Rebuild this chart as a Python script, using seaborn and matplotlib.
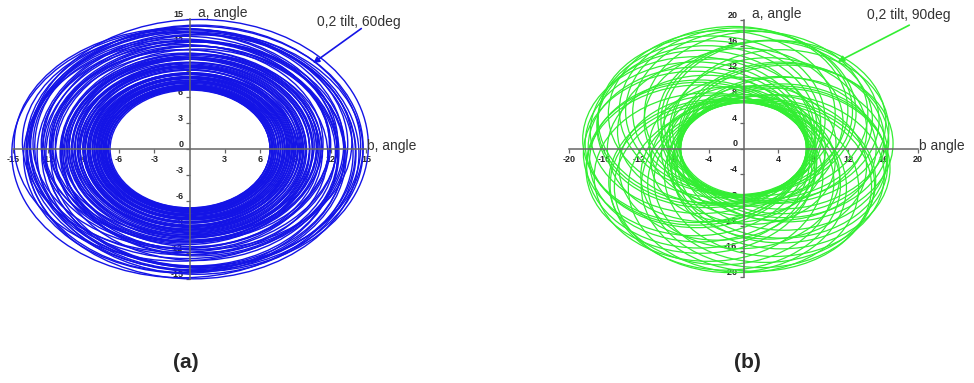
import matplotlib
matplotlib.use("Agg")
import matplotlib.pyplot as plt
from matplotlib.patches import Ellipse
import seaborn as sns

# ---- left panel (0,2 tilt, 60deg): loops ----
blue_r = [6.80, 6.85, 6.90, 6.95, 7.00, 7.05, 7.10, 7.15, 7.20, 7.25,
          7.30, 7.36, 7.42, 7.48, 7.54, 7.60, 7.66, 7.72, 7.78, 7.84,
          7.90, 7.96, 8.02, 8.08, 8.15, 8.21, 8.28, 8.34, 8.41, 8.47,
          8.54, 8.60, 8.67, 8.73, 8.80, 8.87, 8.95, 9.02, 9.10, 9.17,
          9.25, 9.32, 9.40, 9.47, 9.55, 9.62, 9.70, 9.79, 9.88, 9.97,
          10.06, 10.15, 10.24, 10.33, 10.42, 10.51, 10.60, 10.70, 10.80, 10.90,
          11.0, 11.1, 11.25, 11.4, 11.5, 11.7, 11.8, 11.95, 12.0, 12.2,
          12.3, 12.4, 12.6, 12.7, 12.85, 13.0, 13.1, 13.2, 13.3, 13.4,
          13.55, 13.65, 13.7, 13.85, 14.0, 14.1, 14.15, 14.25, 14.4, 14.5]
blue_cx = [0.05, 0.0, -0.05, 0.03, 0.08, -0.02, -0.04, 0.05, 0.02, -0.06,
           0.06, 0.0, -0.07, 0.04, 0.03, -0.05, 0.1, 0.02, -0.08, 0.07,
           0.04, -0.06, 0.12, 0.0, -0.1, 0.09, 0.06, -0.08, 0.14, 0.03,
           -0.12, 0.1, 0.08, -0.09, 0.15, 0.0, -0.1, 0.12, 0.1, -0.14,
           0.18, 0.05, -0.15, 0.16, 0.12, -0.1, 0.2, 0.04, -0.18, 0.22,
           0.15, -0.2, 0.25, 0.1, -0.2, 0.28, 0.18, -0.25, 0.3, 0.1,
           -0.4, 0.2, 0.5, -0.5, -0.3, 0.7, 0.1, -0.6, 0.6, 0.4,
           -0.3, 0.8, -0.7, 0.5, 0.3, -0.5, 0.7, 0.9, -0.6, -0.8,
           0.6, -0.2, -0.4, 0.7, -0.9, 0.3, 0.6, 0.5, 0.8, -0.6]
blue_cy = [0.0, 0.03, 0.04, -0.02, -0.05, 0.05, 0.06, -0.04, -0.03, 0.07,
           0.05, -0.05, -0.06, 0.06, 0.08, -0.03, -0.04, 0.09, 0.1, -0.07,
           -0.08, 0.05, 0.06, -0.1, 0.12, 0.04, -0.1, 0.11, 0.08, -0.09,
           -0.12, 0.1, 0.14, -0.08, -0.06, 0.13, 0.1, -0.12, -0.15, 0.08,
           0.12, -0.14, 0.18, 0.1, -0.12, 0.16, 0.15, -0.18, -0.2, 0.12,
           0.1, -0.15, 0.22, 0.05, -0.18, 0.2, 0.2, -0.22, -0.25, 0.15,
           0.5, -0.3, -0.6, 0.4, 0.3, -0.4, 0.6, 0.7, -0.5, -0.8,
           0.5, 0.2, 0.6, -0.6, -0.7, 0.4, 0.8, -0.3, -0.4, 0.8,
           -0.5, 0.6, -0.9, 0.3, 0.5, -0.6, 0.3, -0.2, 0.4, -0.5]
blue_squash = [1.0, 1.01, 0.99, 1.0, 1.01, 0.99, 1.0, 1.01, 0.99, 1.0,
               1.01, 0.99, 1.0, 0.98, 1.01, 1.0, 1.01, 0.99, 1.0, 1.02,
               0.99, 1.01, 1.02, 0.99, 0.99, 1.0, 1.0, 1.02, 0.98, 1.0,
               1.02, 0.99, 1.0, 1.01, 0.99, 1.02, 1.01, 0.98, 0.98, 1.02,
               1.02, 0.99, 1.0, 1.01, 0.99, 0.98, 1.01, 1.02, 0.98, 0.99,
               1.02, 1.0, 0.99, 1.02, 1.01, 0.98, 0.98, 1.01, 1.02, 0.99,
               0.96, 1.02, 1.03, 0.97, 0.97, 1.02, 0.96, 0.95, 1.03, 1.04,
               0.97, 0.98, 0.96, 1.02, 1.03, 0.97, 0.95, 1.02, 1.04, 0.95,
               1.03, 0.97, 0.98, 1.01, 0.96, 1.02, 0.98, 0.97, 1.01, 0.99]

# ---- right panel (0,2 tilt, 90deg): offset loops forming the rosette ----
green_cx = [0.5, -0.6, 0.2, -0.3, 1.1, -1.0, 0.4, -0.2, 1.6, -1.7, 0.9, -1.1,
            4.64, 4.94, 4.29, 3.04, 3.61, 2.47, -0.51, 0.10, -1.14,
            -3.96, -3.65, -4.20, -5.45, -5.53, -5.30, -5.08, -5.04, -4.95,
            -2.09, -2.54, -1.50, 2.02, 1.48, 2.45, 4.33, 4.29, 4.39,
            4.26, 1.45, -2.49, -4.86, -5.55, -4.01, 0.0, 3.54, 4.63,
            4.0, 2.83, 0.0, -3.14, -4.2, -2.97, -0.37, 2.90]
green_cy = [0.6, 0.4, -0.9, 1.2, -0.2, -0.6, -1.6, 1.9, 0.8, 0.5, -2.2, -2.0,
            1.24, 0.78, 1.65, 4.34, 4.15, 4.46, 5.78, 5.60, 5.89,
            3.96, 4.51, 3.40, 0.77, 1.38, 0.18, -2.59, -1.94, -3.21,
            -5.73, -5.21, -6.02, -5.54, -5.92, -5.03, -2.50, -3.12, -1.95,
            2.98, 5.41, 5.35, 2.58, -0.78, -4.46, -6.1, -4.21, -0.82,
            0.0, 2.83, 4.2, 2.64, 0.0, -2.97, -4.19, -2.90]
green_r = [7.8, 8.0, 8.1, 8.5, 8.3, 8.4, 8.9, 9.2, 9.0, 9.1, 9.6, 9.5,
           12.0, 12.2, 11.8, 12.5, 12.7, 12.3, 13.0, 12.8, 13.1,
           12.8, 13.0, 12.6, 12.7, 12.9, 12.5, 12.9, 12.6, 13.1,
           13.2, 12.9, 13.3, 13.0, 13.2, 12.7, 12.2, 12.5, 12.0,
           12.4, 12.8, 13.0, 12.7, 12.8, 13.1, 13.2, 12.6, 11.9,
           11.2, 11.3, 11.4, 11.3, 11.4, 11.3, 11.4, 11.2]

left_ticks = [-15, -12, -9, -6, -3, 3, 6, 9, 12, 15]
left_yticks = [-15, -12, -9, -6, -3, 0, 3, 6, 9, 12, 15]
right_ticks = [-20, -16, -12, -8, -4, 4, 8, 12, 16, 20]
right_yticks = [-20, -16, -12, -8, -4, 0, 4, 8, 12, 16, 20]

sns.set_style("white")
plt.rcParams['font.family'] = ['Liberation Sans', 'DejaVu Sans']

W, H = 974, 383
fig = plt.figure(figsize=(W / 100, H / 100), dpi=100)


def px_axes(x0, x1, y0, y1):
    return fig.add_axes([x0 / W, 1 - y1 / H, (x1 - x0) / W, (y1 - y0) / H])


def setup(ax, lim, xt, yt, xlabel):
    ax.set_xlim(-lim, lim)
    ax.set_ylim(-lim, lim)
    for s in ['top', 'right']:
        ax.spines[s].set_visible(False)
    for s in ['left', 'bottom']:
        ax.spines[s].set_position('zero')
        ax.spines[s].set_color('#666666')
        ax.spines[s].set_linewidth(1.1)
        ax.spines[s].set_zorder(3)
    ax.set_xticks(xt)
    ax.set_yticks(yt)
    ax.set_xticklabels([str(v) for v in xt])
    ax.set_yticklabels([str(v) for v in yt])
    ax.tick_params(direction='out', length=3, width=0.9, color='#666666',
                   labelsize=6.5, pad=1.5, left=True, bottom=True)
    for lab in ax.get_xticklabels() + ax.get_yticklabels():
        lab.set_fontweight('bold')
    for lab in ax.get_yticklabels():
        lab.set_va('bottom')
    ax.set_facecolor('none')
    ax.text(lim * 1.005, lim * 0.02, xlabel, ha='left', va='center',
            fontsize=10, color='#333333')
    ax.text(lim * 0.05, lim * 1.05, "a, angle", ha='left', va='center',
            fontsize=10, color='#333333')


# left panel
ax1 = px_axes(13, 366, 19, 279)
setup(ax1, 15, left_ticks, left_yticks, "b, angle")
for r, cx, cy, sq in zip(blue_r, blue_cx, blue_cy, blue_squash):
    ax1.add_patch(Ellipse((cx, cy), 2 * r, 2 * r * sq, fill=False,
                          edgecolor='#1414e6', lw=1.0, clip_on=False, zorder=1))
ax1.annotate('', xy=(10.5, 9.9), xytext=(14.6, 13.9), annotation_clip=False,
             arrowprops=dict(arrowstyle='-|>', color='#1414e6', lw=1.2,
                             mutation_scale=9, shrinkA=0, shrinkB=0))
ax1.text(10.8, 14.6, "0,2 tilt, 60deg", ha='left', va='center',
         fontsize=10, color='#333333')

# right panel
ax2 = px_axes(569, 918, 20, 277)
setup(ax2, 20, right_ticks, right_yticks, "b angle")
for cx, cy, r in zip(green_cx, green_cy, green_r):
    ax2.add_patch(Ellipse((cx, cy), 2 * r, 2 * r, fill=False,
                          edgecolor='#33ee33', lw=0.9, clip_on=False, zorder=1))
ax2.annotate('', xy=(10.8, 13.5), xytext=(19.0, 19.2), annotation_clip=False,
             arrowprops=dict(arrowstyle='-|>', color='#33ee33', lw=1.2,
                             mutation_scale=9, shrinkA=0, shrinkB=0))
ax2.text(14.2, 20.8, "0,2 tilt, 90deg", ha='left', va='center',
         fontsize=10, color='#333333')

fig.text(186 / W, 1 - 363 / H, "(a)", ha='center', va='center',
         fontsize=15, fontweight='bold')
fig.text(747 / W, 1 - 363 / H, "(b)", ha='center', va='center',
         fontsize=15, fontweight='bold')

fig.savefig("out.png", dpi=100)
